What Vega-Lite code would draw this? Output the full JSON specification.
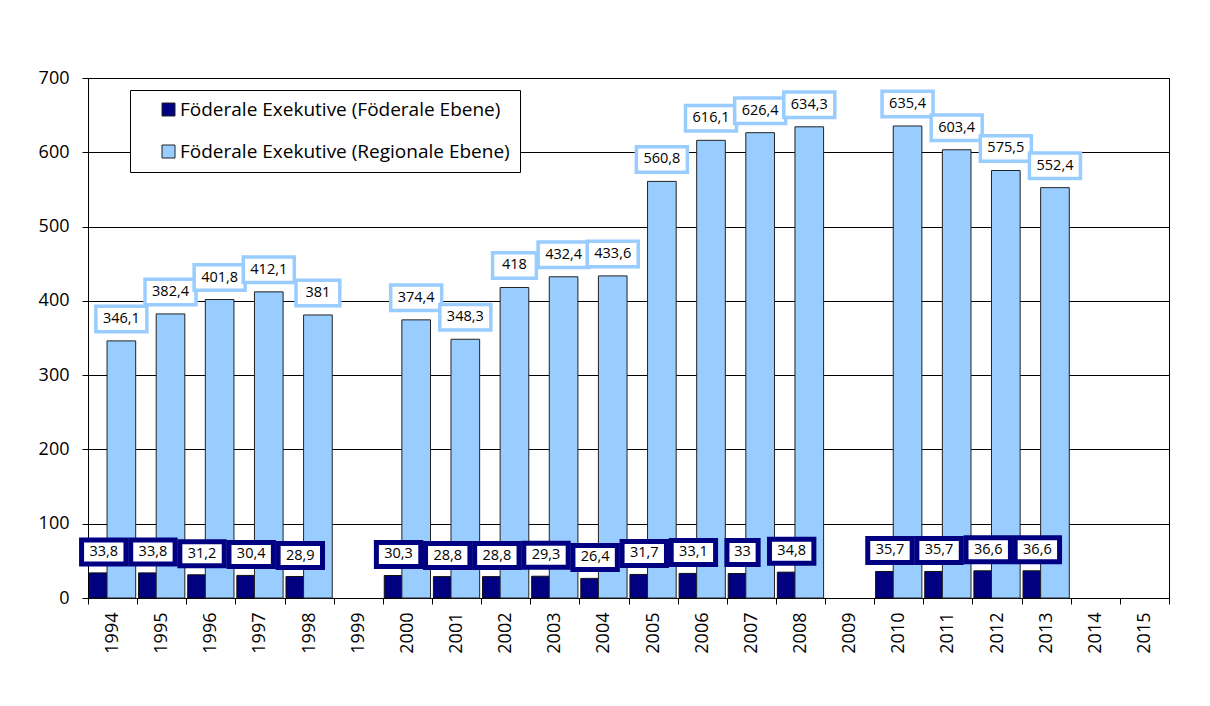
{
  "$schema": "https://vega.github.io/schema/vega-lite/v6.json",
  "autosize": "none",
  "width": 1081,
  "height": 520,
  "padding": {"left": 88, "top": 78, "right": 41, "bottom": 108},
  "background": "white",
  "config": {
    "locale": {"number": {"decimal": ",", "thousands": ".", "grouping": [3], "currency": ["", " €"]}},
    "view": {"stroke": "black", "strokeWidth": 1},
    "font": "Open Sans"
  },
  "data": {
    "values": [
      {"year": "1994", "series": "Föderale Exekutive (Föderale Ebene)", "value": 33.8},
      {"year": "1995", "series": "Föderale Exekutive (Föderale Ebene)", "value": 33.8},
      {"year": "1996", "series": "Föderale Exekutive (Föderale Ebene)", "value": 31.2},
      {"year": "1997", "series": "Föderale Exekutive (Föderale Ebene)", "value": 30.4},
      {"year": "1998", "series": "Föderale Exekutive (Föderale Ebene)", "value": 28.9},
      {"year": "2000", "series": "Föderale Exekutive (Föderale Ebene)", "value": 30.3},
      {"year": "2001", "series": "Föderale Exekutive (Föderale Ebene)", "value": 28.8},
      {"year": "2002", "series": "Föderale Exekutive (Föderale Ebene)", "value": 28.8},
      {"year": "2003", "series": "Föderale Exekutive (Föderale Ebene)", "value": 29.3},
      {"year": "2004", "series": "Föderale Exekutive (Föderale Ebene)", "value": 26.4},
      {"year": "2005", "series": "Föderale Exekutive (Föderale Ebene)", "value": 31.7},
      {"year": "2006", "series": "Föderale Exekutive (Föderale Ebene)", "value": 33.1},
      {"year": "2007", "series": "Föderale Exekutive (Föderale Ebene)", "value": 33},
      {"year": "2008", "series": "Föderale Exekutive (Föderale Ebene)", "value": 34.8},
      {"year": "2010", "series": "Föderale Exekutive (Föderale Ebene)", "value": 35.7},
      {"year": "2011", "series": "Föderale Exekutive (Föderale Ebene)", "value": 35.7},
      {"year": "2012", "series": "Föderale Exekutive (Föderale Ebene)", "value": 36.6},
      {"year": "2013", "series": "Föderale Exekutive (Föderale Ebene)", "value": 36.6},
      {"year": "1994", "series": "Föderale Exekutive (Regionale Ebene)", "value": 346.1},
      {"year": "1995", "series": "Föderale Exekutive (Regionale Ebene)", "value": 382.4},
      {"year": "1996", "series": "Föderale Exekutive (Regionale Ebene)", "value": 401.8},
      {"year": "1997", "series": "Föderale Exekutive (Regionale Ebene)", "value": 412.1},
      {"year": "1998", "series": "Föderale Exekutive (Regionale Ebene)", "value": 381},
      {"year": "2000", "series": "Föderale Exekutive (Regionale Ebene)", "value": 374.4},
      {"year": "2001", "series": "Föderale Exekutive (Regionale Ebene)", "value": 348.3},
      {"year": "2002", "series": "Föderale Exekutive (Regionale Ebene)", "value": 418},
      {"year": "2003", "series": "Föderale Exekutive (Regionale Ebene)", "value": 432.4},
      {"year": "2004", "series": "Föderale Exekutive (Regionale Ebene)", "value": 433.6},
      {"year": "2005", "series": "Föderale Exekutive (Regionale Ebene)", "value": 560.8},
      {"year": "2006", "series": "Föderale Exekutive (Regionale Ebene)", "value": 616.1},
      {"year": "2007", "series": "Föderale Exekutive (Regionale Ebene)", "value": 626.4},
      {"year": "2008", "series": "Föderale Exekutive (Regionale Ebene)", "value": 634.3},
      {"year": "2010", "series": "Föderale Exekutive (Regionale Ebene)", "value": 635.4},
      {"year": "2011", "series": "Föderale Exekutive (Regionale Ebene)", "value": 603.4},
      {"year": "2012", "series": "Föderale Exekutive (Regionale Ebene)", "value": 575.5},
      {"year": "2013", "series": "Föderale Exekutive (Regionale Ebene)", "value": 552.4}
    ]
  },
  "encoding": {
    "x": {
      "field": "year",
      "type": "ordinal",
      "scale": {
        "domain": ["1994","1995","1996","1997","1998","1999","2000","2001","2002","2003","2004","2005","2006","2007","2008","2009","2010","2011","2012","2013","2014","2015"],
        "paddingInner": 0,
        "paddingOuter": 0
      },
      "axis": {
        "title": null,
        "labelAngle": -90,
        "labelFont": "Open Sans",
        "labelFontSize": 18,
        "labelColor": "black",
        "labelPadding": 8,
        "tickBand": "extent",
        "tickSize": 6,
        "tickColor": "black",
        "domainColor": "black",
        "grid": false
      }
    },
    "y": {
      "field": "value",
      "type": "quantitative",
      "scale": {"domain": [0, 700], "nice": false},
      "axis": {
        "title": null,
        "values": [0, 100, 200, 300, 400, 500, 600, 700],
        "labelFont": "Open Sans",
        "labelFontSize": 18,
        "labelColor": "black",
        "labelPadding": 13,
        "tickSize": 6,
        "tickColor": "black",
        "domainColor": "black",
        "grid": true,
        "gridColor": "black",
        "gridOpacity": 1,
        "gridWidth": 1
      }
    }
  },
  "layer": [
    {
      "transform": [{"filter": {"field": "series", "equal": "Föderale Exekutive (Föderale Ebene)"}}],
      "mark": {"type": "bar", "width": {"band": 0.583}, "xOffset": -8.8, "stroke": "#111", "strokeWidth": 1},
      "encoding": {
        "color": {
          "field": "series",
          "type": "nominal",
          "scale": {
            "domain": ["Föderale Exekutive (Föderale Ebene)", "Föderale Exekutive (Regionale Ebene)"],
            "range": ["#000080", "#99CCFF"]
          },
          "legend": {
            "title": null,
            "orient": "none",
            "legendX": 42,
            "legendY": 12,
            "direction": "vertical",
            "fillColor": "white",
            "strokeColor": "black",
            "padding": 10,
            "symbolOffset": 19,
            "symbolType": "square",
            "symbolSize": 169,
            "symbolStrokeColor": "black",
            "symbolStrokeWidth": 1,
            "symbolOpacity": 1,
            "labelFont": "Open Sans",
            "labelFontSize": 19,
            "labelColor": "black",
            "labelLimit": 600,
            "labelOffset": 2,
            "rowPadding": 22
          }
        }
      }
    },
    {
      "transform": [{"filter": {"field": "series", "equal": "Föderale Exekutive (Regionale Ebene)"}}],
      "mark": {"type": "bar", "width": {"band": 0.583}, "xOffset": 8.8, "stroke": "#222", "strokeWidth": 1},
      "encoding": {
        "color": {"field": "series", "type": "nominal"}
      }
    },
    {
      "transform": [{"filter": {"field": "series", "equal": "Föderale Exekutive (Föderale Ebene)"}}],
      "mark": {"type": "point", "size": 3600, "filled": true, "fill": "white", "stroke": "#000080", "strokeWidth": 5, "opacity": 1, "fillOpacity": 1, "strokeOpacity": 1, "xOffset": -8.8, "yOffset": -21},
      "encoding": {
        "shape": {
          "condition": {"test": "datum.value % 1 === 0", "value": "M-0.52,-0.4H0.52V0.4H-0.52Z"},
          "value": "M-0.74,-0.4H0.74V0.4H-0.74Z"
        }
      }
    },
    {
      "transform": [{"filter": {"field": "series", "equal": "Föderale Exekutive (Föderale Ebene)"}}],
      "mark": {"type": "text", "font": "Open Sans", "fontSize": 14.5, "color": "black", "baseline": "middle", "align": "center", "xOffset": -8.8, "yOffset": -21},
      "encoding": {
        "text": {"field": "value", "type": "quantitative", "format": ".1~f"}
      }
    },
    {
      "transform": [{"filter": {"field": "series", "equal": "Föderale Exekutive (Regionale Ebene)"}}],
      "mark": {"type": "point", "size": 3600, "filled": true, "fill": "white", "stroke": "#99CCFF", "strokeWidth": 3.5, "opacity": 1, "fillOpacity": 1, "strokeOpacity": 1, "xOffset": 8.8, "yOffset": -22},
      "encoding": {
        "shape": {
          "condition": {"test": "datum.value % 1 === 0", "value": "M-0.73,-0.425H0.73V0.425H-0.73Z"},
          "value": "M-0.85,-0.425H0.85V0.425H-0.85Z"
        }
      }
    },
    {
      "transform": [{"filter": {"field": "series", "equal": "Föderale Exekutive (Regionale Ebene)"}}],
      "mark": {"type": "text", "font": "Open Sans", "fontSize": 14.5, "color": "black", "baseline": "middle", "align": "center", "xOffset": 8.8, "yOffset": -22},
      "encoding": {
        "text": {"field": "value", "type": "quantitative", "format": ".1~f"}
      }
    }
  ]
}
